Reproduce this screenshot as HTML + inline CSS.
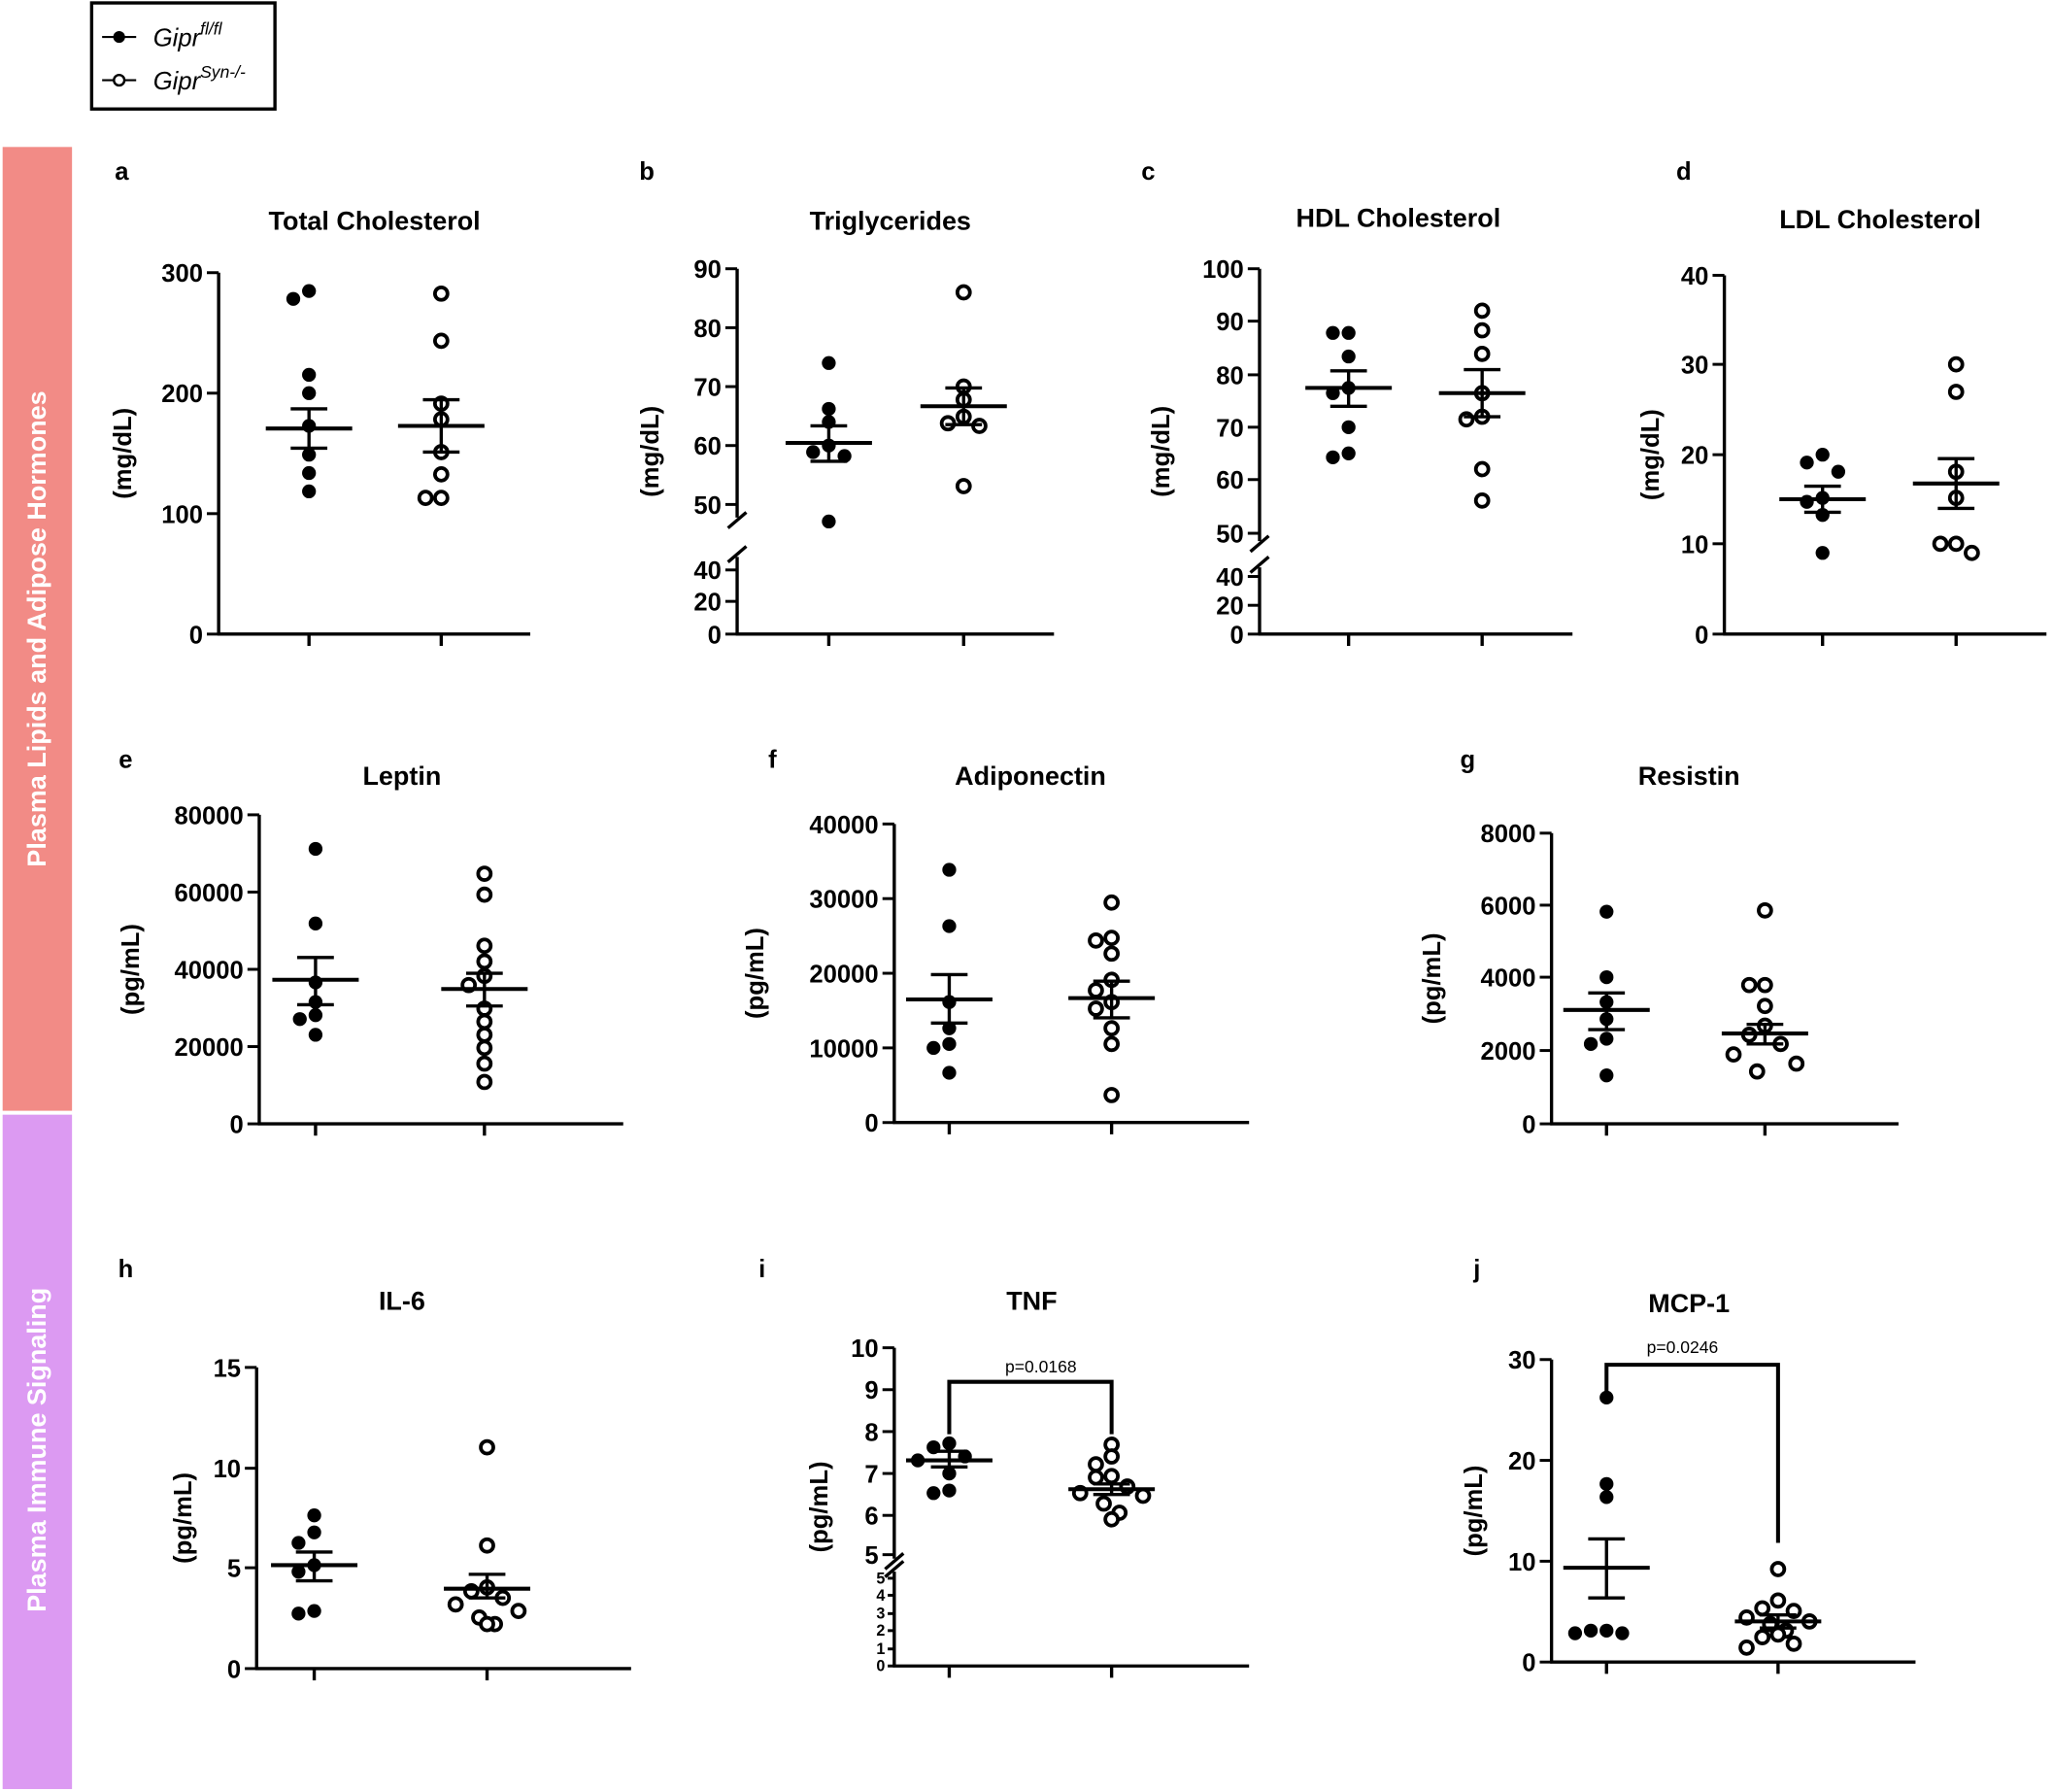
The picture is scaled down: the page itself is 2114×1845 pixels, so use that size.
<!DOCTYPE html>
<html><head><meta charset="utf-8"><style>html,body{margin:0;padding:0;background:#fff}svg{display:block}</style></head>
<body>
<svg id="s" xmlns="http://www.w3.org/2000/svg" width="2114" height="1845" viewBox="0 0 1568 1368" font-family="Liberation Sans, Arial, sans-serif">
<rect x="0" y="0" width="1568" height="1368" fill="#fff"/>
<rect x="2" y="112" width="53" height="736" fill="#f28b86"/>
<rect x="2" y="851" width="53" height="515" fill="#dc9af2"/>
<text transform="translate(35,480) rotate(-90)" text-anchor="middle" fill="#fff" font-size="20" font-weight="bold">Plasma Lipids and Adipose Hormones</text>
<text transform="translate(35,1107) rotate(-90)" text-anchor="middle" fill="#fff" font-size="20" font-weight="bold">Plasma Immune Signaling</text>
<rect x="70" y="2" width="140" height="81" fill="none" stroke="#000" stroke-width="2.5"/>
<line x1="78" y1="28" x2="104" y2="28" stroke="#000" stroke-width="1.5"/><circle cx="91" cy="28" r="4.5" fill="#000"/>
<text x="117" y="35" font-size="19" font-style="italic">Gipr<tspan font-size="13" dy="-9">fl/fl</tspan></text>
<line x1="78" y1="61" x2="104" y2="61" stroke="#000" stroke-width="1.5"/><circle cx="91" cy="61" r="4" fill="#fff" stroke="#000" stroke-width="1.8"/>
<text x="117" y="68" font-size="19" font-style="italic">Gipr<tspan font-size="13" dy="-9">Syn-/-</tspan></text>
<g id="g"></g>
</svg>
<script>
var P=[
{l:"a",lx:93,ly:131,t:"Total Cholesterol",tx:286,ty:168,ax:167,top:208,bot:484,right:405,yl:"(mg/dL)",ylx:100,ticks:[[300,208],[200,300],[100,392],[0,484]],xt:[236,337],
f:[222,228,286,300,325,347,361,375],fm:[327,312,342],o:[224,260,308,320,345,362,380,380],om:[325,305,345]},
{l:"b",lx:494,ly:131,t:"Triglycerides",tx:680,ty:168,ax:563,top:205,bot:484,right:805,yl:"(mg/dL)",ylx:503,brk:[395,425],ticks:[[90,205],[80,250],[70,295],[60,340],[50,385],[40,435],[20,459],[0,484]],xt:[633,736],
f:[277,312,322,340,345,348,398],fm:[338,325,352],o:[223,295,305,318,323,325,371],om:[310,296,324]},
{l:"c",lx:877,ly:131,t:"HDL Cholesterol",tx:1068,ty:166,ax:962,top:205,bot:484,right:1201,yl:"(mg/dL)",ylx:893,brk:[413,433],ticks:[[100,205],[90,245],[80,286],[70,326],[60,366],[50,407],[40,440],[20,462],[0,484]],xt:[1030,1132],
f:[254,254,272,296,300,326,346,349],fm:[296,283,310],o:[237,252,270,300,318,320,358,382],om:[300,282,318]},
{l:"d",lx:1286,ly:131,t:"LDL Cholesterol",tx:1436,ty:167,ax:1317,top:210,bot:484,right:1563,yl:"(mg/dL)",ylx:1267,ticks:[[40,210],[30,278],[20,347],[10,415],[0,484]],xt:[1392,1494],
f:[347,353,360,380,383,393,422],fm:[381,371,391],o:[278,299,360,380,415,415,422],om:[369,350,388]},
{l:"e",lx:96,ly:580,t:"Leptin",tx:307,ty:592,ax:198,top:622,bot:858,right:476,yl:"(pg/mL)",ylx:106,ticks:[[80000,622],[60000,681],[40000,740],[20000,799],[0,858]],xt:[241,370],
f:[648,705,750,765,775,778,790],fm:[748,731,767],o:[667,683,722,734,745,752,770,780,790,800,812,826],om:[755,743,768]},
{l:"f",lx:590,ly:580,t:"Adiponectin",tx:787,ty:592,ax:683,top:629,bot:857,right:954,yl:"(pg/mL)",ylx:583,ticks:[[40000,629],[30000,686],[20000,743],[10000,800],[0,857]],xt:[725,849],
f:[664,707,765,785,797,800,819],fm:[763,744,781],o:[689,716,718,728,748,756,765,770,785,797,836],om:[762,749,777]},
{l:"g",lx:1121,ly:580,t:"Resistin",tx:1290,ty:592,ax:1185,top:636,bot:858,right:1450,yl:"(pg/mL)",ylx:1100,ticks:[[8000,636],[6000,691],[4000,746],[2000,802],[0,858]],xt:[1227,1348],
f:[696,746,765,778,793,797,821],fm:[771,758,786],o:[695,752,752,768,783,790,797,805,812,818],om:[789,782,797]},
{l:"h",lx:96,ly:969,t:"IL-6",tx:307,ty:993,ax:196,top:1044,bot:1274,right:482,yl:"(pg/mL)",ylx:146,ticks:[[15,1044],[10,1121],[5,1197],[0,1274]],xt:[240,372],
f:[1157,1170,1178,1195,1200,1230,1232],fm:[1195,1185,1207],o:[1105,1180,1212,1215,1220,1225,1230,1235,1240,1240],om:[1213,1202,1220]},
{l:"i",lx:582,ly:969,t:"TNF",tx:788,ty:993,ax:683,top:1029,bot:1272,right:954,yl:"(pg/mL)",ylx:632,brk:[1190,1200],small:true,ticks:[[10,1029],[9,1061],[8,1093],[7,1125],[6,1157],[5,1187],[5,1205],[4,1218],[3,1232],[2,1245],[1,1259],[0,1272]],xt:[725,849],
f:[1102,1105,1112,1115,1125,1140,1138],fm:[1115,1108,1120],o:[1103,1112,1118,1127,1135,1140,1148,1155,1160,1128,1142],om:[1137,1133,1141],
br:{y:1055,y1:1095,y2:1095,p:"p=0.0168",px:795,py:1048}},
{l:"j",lx:1128,ly:969,t:"MCP-1",tx:1290,ty:995,ax:1185,top:1038,bot:1269,right:1463,yl:"(pg/mL)",ylx:1132,ticks:[[30,1038],[20,1115],[10,1192],[0,1269]],xt:[1227,1358],
f:[1067,1133,1143,1245,1245,1247,1247],fm:[1197,1175,1220],o:[1198,1222,1230,1235,1238,1240,1245,1250,1255,1258,1228,1248],om:[1238,1233,1243],
br:{y:1042,y1:1065,y2:1178,p:"p=0.0246",px:1285,py:1033}}
];
var h="";
function pts(arr,cx,open){
  var s=arr.slice().sort(function(a,b){return a-b}),out="";
  var offs=[0,-12,12,-24,24,-6,6];
  var last=-999,k=0;
  s.forEach(function(y){ if(y-last<9){k++;}else{k=0;} last=y;
    var x=cx+offs[k%offs.length];
    out+=open?'<circle cx="'+x+'" cy="'+y+'" r="4.8" fill="#fff" stroke="#000" stroke-width="2.8"/>':'<circle cx="'+x+'" cy="'+y+'" r="5.3" fill="#000"/>';});
  return out;
}
function mean(cx,m){return '<line x1="'+(cx-33)+'" y1="'+m[0]+'" x2="'+(cx+33)+'" y2="'+m[0]+'" stroke="#000" stroke-width="3"/><line x1="'+cx+'" y1="'+m[1]+'" x2="'+cx+'" y2="'+m[2]+'" stroke="#000" stroke-width="2.5"/><line x1="'+(cx-14)+'" y1="'+m[1]+'" x2="'+(cx+14)+'" y2="'+m[1]+'" stroke="#000" stroke-width="2.5"/><line x1="'+(cx-14)+'" y1="'+m[2]+'" x2="'+(cx+14)+'" y2="'+m[2]+'" stroke="#000" stroke-width="2.5"/>';}
P.forEach(function(p){
  h+='<text x="'+p.lx+'" y="'+(p.ly+6)+'" font-size="19" font-weight="bold" text-anchor="middle">'+p.l+'</text>';
  h+='<text x="'+p.tx+'" y="'+(p.ty+7)+'" font-size="20" font-weight="bold" text-anchor="middle">'+p.t+'</text>';
  var my=(p.top+p.bot)/2;
  h+='<text transform="translate('+p.ylx+','+my+') rotate(-90)" font-size="19" font-weight="bold" text-anchor="middle">'+p.yl+'</text>';
  if(p.brk){
    h+='<line x1="'+p.ax+'" y1="'+p.top+'" x2="'+p.ax+'" y2="'+p.brk[0]+'" stroke="#000" stroke-width="2.5"/>';
    h+='<line x1="'+p.ax+'" y1="'+p.brk[1]+'" x2="'+p.ax+'" y2="'+p.bot+'" stroke="#000" stroke-width="2.5"/>';
    h+='<line x1="'+(p.ax-7)+'" y1="'+(p.brk[0]+8)+'" x2="'+(p.ax+7)+'" y2="'+(p.brk[0]-4)+'" stroke="#000" stroke-width="2.5"/>';
    h+='<line x1="'+(p.ax-7)+'" y1="'+(p.brk[1]+4)+'" x2="'+(p.ax+7)+'" y2="'+(p.brk[1]-8)+'" stroke="#000" stroke-width="2.5"/>';
  } else h+='<line x1="'+p.ax+'" y1="'+p.top+'" x2="'+p.ax+'" y2="'+p.bot+'" stroke="#000" stroke-width="2.5"/>';
  h+='<line x1="'+(p.ax-1)+'" y1="'+p.bot+'" x2="'+p.right+'" y2="'+p.bot+'" stroke="#000" stroke-width="2.5"/>';
  p.ticks.forEach(function(t,i){
    var sm=p.small&&i>5;
    h+='<line x1="'+(p.ax-(sm?5:9))+'" y1="'+t[1]+'" x2="'+p.ax+'" y2="'+t[1]+'" stroke="#000" stroke-width="2.2"/>';
    h+='<text x="'+(p.ax-(sm?7:12))+'" y="'+(t[1]+(sm?4:7))+'" font-size="'+(sm?12:19)+'" font-weight="bold" text-anchor="end">'+t[0]+'</text>';
  });
  p.xt.forEach(function(x){h+='<line x1="'+x+'" y1="'+p.bot+'" x2="'+x+'" y2="'+(p.bot+9)+'" stroke="#000" stroke-width="2.5"/>';});
  h+=pts(p.f,p.xt[0],false)+pts(p.o,p.xt[1],true)+mean(p.xt[0],p.fm)+mean(p.xt[1],p.om);
  if(p.br){var b=p.br;
    h+='<polyline points="'+p.xt[0]+','+b.y1+' '+p.xt[0]+','+b.y+' '+p.xt[1]+','+b.y+' '+p.xt[1]+','+b.y2+'" fill="none" stroke="#000" stroke-width="3"/>';
    h+='<text x="'+b.px+'" y="'+b.py+'" font-size="13" text-anchor="middle">'+b.p+'</text>';}
});
document.getElementById("g").innerHTML=h;
</script>
</body></html>
